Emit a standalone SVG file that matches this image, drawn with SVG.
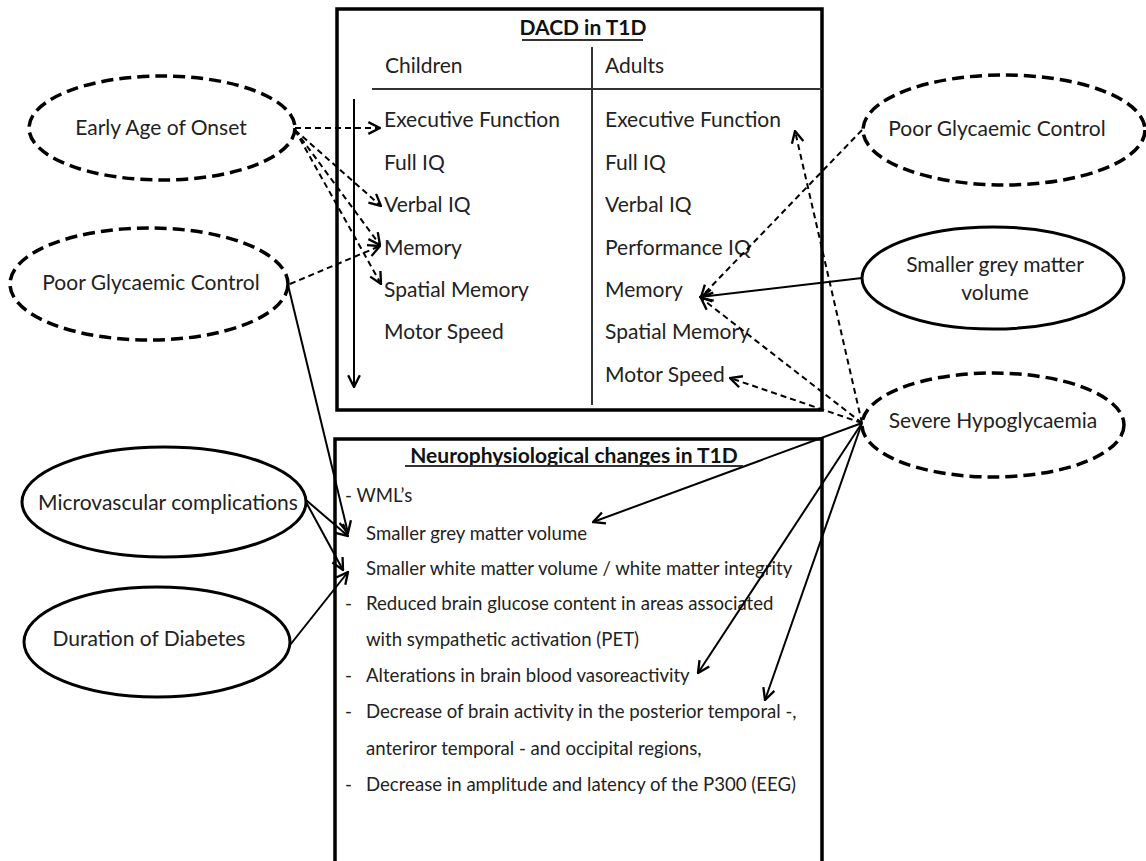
<svg xmlns="http://www.w3.org/2000/svg" width="1146" height="861" viewBox="0 0 1146 861">
<style>
.t{font-family:Lato,"Liberation Sans",sans-serif;fill:#222;font-size:21px}
.s{font-size:18.6px}
.b{font-weight:bold;fill:#111}
.m{text-anchor:middle}
.box{fill:none;stroke:#000;stroke-width:3.5}
.el{fill:#fff;stroke:#000;stroke-width:3}
.eld{fill:#fff;stroke:#000;stroke-width:3.5;stroke-dasharray:12 6}
.c{fill:none;stroke:#000;stroke-width:2}
.d{stroke-dasharray:6 4}
.rule{stroke:#333;stroke-width:2}
</style>
<defs>
<marker id="arr" viewBox="0 0 12 12" refX="11" refY="6" markerWidth="14" markerHeight="14" markerUnits="userSpaceOnUse" orient="auto">
<path d="M1,1 L11,6 L1,11" fill="none" stroke="#000" stroke-width="2" stroke-dasharray="none"/>
</marker>
</defs>
<rect width="1146" height="861" fill="#fff"/>

<g id="dacd-box">
<rect class="box" x="337" y="9" width="485" height="401"/>
<text class="t b m" x="583" y="35">DACD in T1D</text>
<line class="rule" x1="522" y1="40" x2="643" y2="40"/>
<line class="rule" x1="592" y1="47" x2="592" y2="405"/>
<line class="rule" x1="372" y1="89" x2="822" y2="89"/>
<text class="t" x="385" y="73">Children</text>
<text class="t" x="605" y="73">Adults</text>
<text class="t" x="384" y="127">Executive Function</text>
<text class="t" x="384" y="170">Full IQ</text>
<text class="t" x="384" y="212">Verbal IQ</text>
<text class="t" x="384" y="255">Memory</text>
<text class="t" x="384" y="297">Spatial Memory</text>
<text class="t" x="384" y="339">Motor Speed</text>
<text class="t" x="605" y="127">Executive Function</text>
<text class="t" x="605" y="170">Full IQ</text>
<text class="t" x="605" y="212">Verbal IQ</text>
<text class="t" x="605" y="255">Performance IQ</text>
<text class="t" x="605" y="297">Memory</text>
<text class="t" x="605" y="339">Spatial Memory</text>
<text class="t" x="605" y="382">Motor Speed</text>
</g>

<g id="neuro-box">
<path class="box" d="M335,870 V439 H822 V870"/>
<text class="t b m" x="574" y="463">Neurophysiological changes in T1D</text>
<line class="rule" x1="405" y1="466" x2="743" y2="466"/>
<text class="t s" x="345" y="502">- WML’s</text>
<text class="t s" x="366" y="540">Smaller grey matter volume</text>
<text class="t s" x="366" y="575">Smaller white matter volume / white matter integrity</text>
<text class="t s" x="345" y="610">-</text>
<text class="t s" x="366" y="610">Reduced brain glucose content in areas associated</text>
<text class="t s" x="366" y="646">with sympathetic activation (PET)</text>
<text class="t s" x="345" y="682">-</text>
<text class="t s" x="366" y="682">Alterations in brain blood vasoreactivity</text>
<text class="t s" x="345" y="718">-</text>
<text class="t s" x="366" y="718">Decrease of brain activity in the posterior temporal -,</text>
<text class="t s" x="366" y="755">anteriror temporal - and occipital regions,</text>
<text class="t s" x="345" y="791">-</text>
<text class="t s" x="366" y="791">Decrease in amplitude and latency of the P300 (EEG)</text>
</g>

<g id="early-age">
<ellipse class="eld" cx="162" cy="128" rx="133" ry="52"/>
<text class="t m" x="161" y="135">Early Age of Onset</text>
</g>
<g id="pgc-left">
<ellipse class="eld" cx="149" cy="284" rx="139" ry="56"/>
<text class="t m" x="151" y="290">Poor Glycaemic Control</text>
</g>
<g id="microvascular">
<ellipse class="el" cx="164" cy="502" rx="142" ry="55"/>
<text class="t m" x="168" y="510">Microvascular complications</text>
</g>
<g id="duration">
<ellipse class="el" cx="157" cy="642" rx="133" ry="55"/>
<text class="t m" x="149" y="646">Duration of Diabetes</text>
</g>
<g id="pgc-right">
<ellipse class="eld" cx="1004" cy="130" rx="141" ry="55"/>
<text class="t m" x="997" y="136">Poor Glycaemic Control</text>
</g>
<g id="sgmv">
<ellipse class="el" cx="993" cy="278" rx="131" ry="51"/>
<text class="t m" x="995" y="272">Smaller grey matter</text>
<text class="t m" x="995" y="300">volume</text>
</g>
<g id="severe-hypo">
<ellipse class="eld" cx="993" cy="425" rx="131" ry="52"/>
<text class="t m" x="993" y="428">Severe Hypoglycaemia</text>
</g>

<g id="connectors">
<path class="c" d="M354,99 L354,387" marker-end="url(#arr)"/>
<path class="c d" d="M295,128 L380,128" marker-end="url(#arr)"/>
<path class="c d" d="M295,130 L381,206" marker-end="url(#arr)"/>
<path class="c d" d="M295,130 L380,245" marker-end="url(#arr)"/>
<path class="c d" d="M295,130 L381,284" marker-end="url(#arr)"/>
<path class="c d" d="M290,284 L380,246" marker-end="url(#arr)"/>
<path class="c d" d="M862,130 L701,297" marker-end="url(#arr)"/>
<path class="c d" d="M862,423 L795,131" marker-end="url(#arr)"/>
<path class="c d" d="M862,423 L701,298" marker-end="url(#arr)"/>
<path class="c d" d="M862,423 L730,378" marker-end="url(#arr)"/>
<path class="c" d="M862,278 L700,297" marker-end="url(#arr)"/>
<path class="c" d="M288,285 L348,533" marker-end="url(#arr)"/>
<path class="c" d="M306,500 L348,536" marker-end="url(#arr)"/>
<path class="c" d="M306,502 L343,570" marker-end="url(#arr)"/>
<path class="c" d="M290,645 L348,572" marker-end="url(#arr)"/>
<path class="c" d="M862,423 L593,522" marker-end="url(#arr)"/>
<path class="c" d="M862,423 L698,673" marker-end="url(#arr)"/>
<path class="c" d="M862,423 L765,700" marker-end="url(#arr)"/>
</g>
</svg>
